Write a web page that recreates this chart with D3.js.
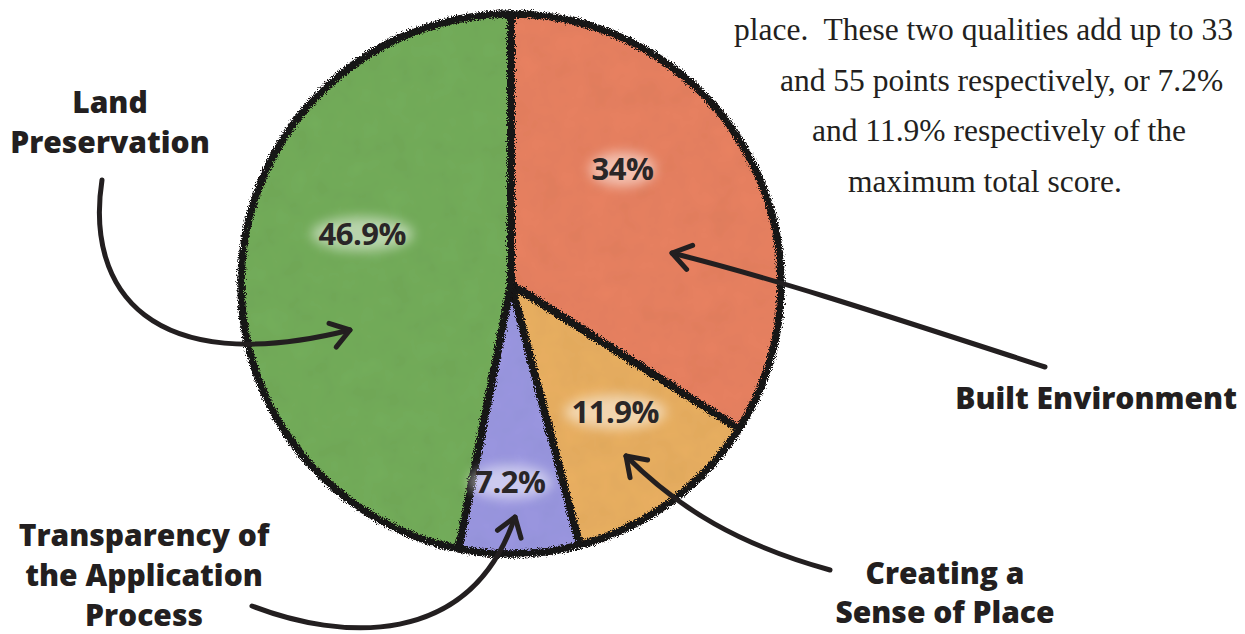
<!DOCTYPE html>
<html><head><meta charset="utf-8">
<script src="https://cdn.jsdelivr.net/npm/d3@7"></script>
<style>html,body{margin:0;padding:0;background:#fff;}svg{display:block;}</style>
</head><body>
<svg id="chart" width="1245" height="634"></svg>
<script>
// ---- data ----
const categories = ["Built Environment", "Creating a Sense of Place", "Transparency of the Application Process", "Land Preservation"];
const values = [34, 11.9, 7.2, 46.9];
const valueLabels = ["34%", "11.9%", "7.2%", "46.9%"];
const paragraphLines = [
  "place.  These two qualities add up to 33",
  "and 55 points respectively, or 7.2%",
  "and 11.9% respectively of the",
  "maximum total score."
];

// ---- styling / layout ----
const colors = ["#e98262", "#eab062", "#9b98e2", "#74ae5c"];
const W = 1245, H = 634;
const cx = 511, cy = 284, R = 270;
const ink = "#231f20";

const svg = d3.select("#chart");
const defs = svg.append("defs");

// rough charcoal edge
const rough = defs.append("filter").attr("id", "rough").attr("x", "-5%").attr("y", "-5%").attr("width", "110%").attr("height", "110%");
rough.append("feTurbulence").attr("type", "fractalNoise").attr("baseFrequency", 1.1).attr("numOctaves", 2).attr("seed", 3).attr("result", "n");
rough.append("feDisplacementMap").attr("in", "SourceGraphic").attr("in2", "n").attr("scale", 7).attr("xChannelSelector", "R").attr("yChannelSelector", "G");

// paper-like mottled fill
const tex = defs.append("filter").attr("id", "tex");
tex.append("feTurbulence").attr("type", "fractalNoise").attr("baseFrequency", 0.04).attr("numOctaves", 3).attr("seed", 7).attr("result", "t");
tex.append("feColorMatrix").attr("in", "t").attr("type", "matrix")
  .attr("values", "0 0 0 0 0  0 0 0 0 0  0 0 0 0 0  0 0 0 0.10 0").attr("result", "ta");
tex.append("feComposite").attr("in", "ta").attr("in2", "SourceGraphic").attr("operator", "in").attr("result", "tc");
const tm = tex.append("feMerge");
tm.append("feMergeNode").attr("in", "SourceGraphic");
tm.append("feMergeNode").attr("in", "tc");

// soft white glow
const glow = defs.append("filter").attr("id", "glow").attr("x", "-30%").attr("y", "-60%").attr("width", "160%").attr("height", "220%");
glow.append("feGaussianBlur").attr("stdDeviation", 6);

const pie = d3.pie().sort(null).value(d => d);
const arcs = pie(values);
const arc = d3.arc().innerRadius(0).outerRadius(R);

const g = svg.append("g").attr("transform", `translate(${cx},${cy})`);

g.selectAll("path.slice").data(arcs).join("path")
  .attr("class", "slice")
  .attr("d", arc)
  .attr("fill", (d, i) => colors[i])
  .attr("filter", "url(#tex)");

g.selectAll("path.edge").data(arcs).join("path")
  .attr("class", "edge")
  .attr("d", arc)
  .attr("fill", "none")
  .attr("stroke", "#141212")
  .attr("stroke-width", 7.5)
  .attr("stroke-linejoin", "round")
  .attr("filter", "url(#rough)");

// value labels: slice mid-angle with small hand-placement tweaks
const labelTweak = [{da: -17, r: 160}, {da: -3, r: 165}, {da: 2, r: 198}, {da: 13, r: 157}];
const toRad = Math.PI / 180;
const lpos = arcs.map((d, i) => {
  const a = (d.startAngle + d.endAngle) / 2 + labelTweak[i].da * toRad;
  return [Math.sin(a) * labelTweak[i].r, -Math.cos(a) * labelTweak[i].r];
});

const lg = g.selectAll("g.vl").data(arcs).join("g").attr("class", "vl")
  .attr("transform", (d, i) => `translate(${lpos[i][0]},${lpos[i][1]})`);
lg.append("ellipse").attr("rx", (d, i) => valueLabels[i].length * 9 + 6).attr("ry", 17)
  .attr("fill", "#fff").attr("opacity", 0.5).attr("filter", "url(#glow)");
lg.append("text").text((d, i) => valueLabels[i])
  .attr("text-anchor", "middle").attr("dy", "0.36em")
  .attr("font-family", "'Open Sans', 'Noto Sans', sans-serif")
  .attr("font-weight", 700).attr("font-size", 31).attr("letter-spacing", -0.5).attr("fill", "#2a2627");

// category annotations
const catFont = "'Open Sans', 'Noto Sans', sans-serif";
const catLayout = [
  {lines: ["Built Environment"], x: 1237, y: 409, anchor: "end"},
  {lines: ["Creating a", "Sense of Place"], x: 945, y: 584, anchor: "middle"},
  {lines: ["Transparency of", "the Application", "Process"], x: 144, y: 546, anchor: "middle"},
  {lines: ["Land", "Preservation"], x: 110, y: 113, anchor: "middle"}
];
categories.forEach((c, i) => {
  const L = catLayout[i];
  const t = svg.append("text").attr("x", L.x).attr("y", L.y)
    .attr("text-anchor", L.anchor).attr("font-family", catFont)
    .attr("font-weight", 800).attr("font-size", 30).attr("fill", ink);
  L.lines.forEach((ln, j) => t.append("tspan").attr("x", L.x).attr("dy", j === 0 ? 0 : (L.lines.length === 2 && i === 1 ? 39 : 40)).text(ln));
});

// curved arrows
const arrows = [
  {p: "M1045,367 C 900,320 780,280 672,253", tip: [672, 253], from: [700, 260]},
  {p: "M830,570 C 740,545 680,510 626,456", tip: [626, 456], from: [640, 470]},
  {p: "M252,606 C 340,640 470,650 515,517", tip: [515, 517], from: [510, 532]},
  {p: "M102,180 C 85,290 150,380 350,330", tip: [350, 330], from: [330, 336]}
];
arrows.forEach(a => {
  svg.append("path").attr("d", a.p).attr("fill", "none").attr("stroke", ink)
    .attr("stroke-width", 5).attr("stroke-linecap", "round");
  const ang = Math.atan2(a.tip[1] - a.from[1], a.tip[0] - a.from[0]);
  const hl = 22, spread = 0.6;
  const p1 = [a.tip[0] - hl * Math.cos(ang - spread), a.tip[1] - hl * Math.sin(ang - spread)];
  const p2 = [a.tip[0] - hl * Math.cos(ang + spread), a.tip[1] - hl * Math.sin(ang + spread)];
  svg.append("path").attr("d", `M${p1}L${a.tip}L${p2}`).attr("fill", "none").attr("stroke", ink)
    .attr("stroke-width", 5).attr("stroke-linecap", "round").attr("stroke-linejoin", "round");
});

// paragraph text
const paraLayout = [
  {x: 734, y: 40}, {x: 780, y: 91}, {x: 812, y: 141}, {x: 848, y: 192}
];
paragraphLines.forEach((ln, i) => {
  svg.append("text").attr("x", paraLayout[i].x).attr("y", paraLayout[i].y)
    .attr("font-family", "'Liberation Serif', 'DejaVu Serif', serif")
    .attr("font-size", 31.5).attr("fill", ink)
    .style("white-space", "pre").text(ln);
});
</script>
</body></html>
